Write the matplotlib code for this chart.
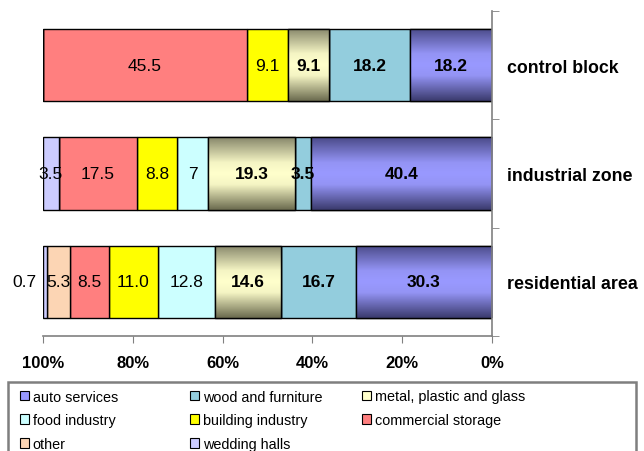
import numpy as np
import matplotlib
matplotlib.use("Agg")
import matplotlib.pyplot as plt
from matplotlib.colors import LinearSegmentedColormap
from matplotlib.patches import Rectangle
from matplotlib import font_manager as fm

plt.rcParams['font.family'] = ['Liberation Sans', 'DejaVu Sans']

try:
    fm.findfont(fm.FontProperties(family='Liberation Sans Narrow'), fallback_to_default=False)
    legend_prop = {"family": ["Liberation Sans Narrow"], "size": 12}
except Exception:
    legend_prop = {"family": ["Liberation Sans"], "size": 10.4}

# ---- data ----
categories = ["residential area", "industrial zone", "control block"]
series = ["auto services", "wood and furniture", "metal, plastic and glass",
          "food industry", "building industry", "commercial storage",
          "other", "wedding halls"]
values = {
    "auto services":            [30.3, 40.4, 18.2],
    "wood and furniture":       [16.7, 3.5, 18.2],
    "metal, plastic and glass": [14.6, 19.3, 9.1],
    "food industry":            [12.8, 7.0, 0.0],
    "building industry":        [11.0, 8.8, 9.1],
    "commercial storage":       [8.5, 17.5, 45.5],
    "other":                    [5.3, 0.0, 0.0],
    "wedding halls":            [0.7, 3.5, 0.0],
}
labels_text = {
    "auto services":            ["30.3", "40.4", "18.2"],
    "wood and furniture":       ["16.7", "3.5", "18.2"],
    "metal, plastic and glass": ["14.6", "19.3", "9.1"],
    "food industry":            ["12.8", "7", ""],
    "building industry":        ["11.0", "8.8", "9.1"],
    "commercial storage":       ["8.5", "17.5", "45.5"],
    "other":                    ["5.3", "", ""],
    "wedding halls":            ["0.7", "3.5", ""],
}
xticks = [0, 20, 40, 60, 80, 100]
xticklabels = ["0%", "20%", "40%", "60%", "80%", "100%"]

# ---- styles ----
colors = {
    "auto services": "#9999ff",
    "wood and furniture": "#93cddd",
    "metal, plastic and glass": "#ffffcc",
    "food industry": "#ccffff",
    "building industry": "#ffff00",
    "commercial storage": "#ff7f7f",
    "other": "#fcd5b4",
    "wedding halls": "#ccccff",
}
gradients = {
    "auto services": LinearSegmentedColormap.from_list(
        "g1", [(0, "#3a3a6c"), (0.35, "#9494f5"), (0.5, "#9999ff"),
               (0.65, "#9494f5"), (1, "#4a4a88")]),
    "metal, plastic and glass": LinearSegmentedColormap.from_list(
        "g2", [(0, "#6a6a4e"), (0.35, "#f5f5c4"), (0.5, "#ffffcc"),
               (0.65, "#f5f5c4"), (1, "#86866a")]),
}
bold_series = {"auto services", "wood and furniture", "metal, plastic and glass"}

W, H = 644, 452
fig = plt.figure(figsize=(W / 100, H / 100), dpi=100)
ax = fig.add_axes([43 / W, 1 - 337 / H, 449 / W, 325 / H])

ypos = np.arange(len(categories))
bar_h = 0.67
left = np.zeros(len(categories))
grad = np.linspace(0, 1, 256).reshape(-1, 1)

for s in series:
    vals = np.array(values[s])
    bars = ax.barh(ypos, vals, height=bar_h, left=left, color=colors[s],
                   edgecolor="black", linewidth=1.0, zorder=2, label=s)
    if s in gradients:
        for b in bars:
            if b.get_width() <= 0:
                continue
            x0, y0 = b.get_x(), b.get_y()
            im = ax.imshow(grad, extent=[x0, x0 + b.get_width(), y0, y0 + b.get_height()],
                           origin="lower", aspect="auto", cmap=gradients[s], zorder=2.1,
                           interpolation="bilinear")
            im.set_clip_path(b)
            ax.add_patch(Rectangle((x0, y0), b.get_width(), b.get_height(),
                                   fill=False, edgecolor="black", linewidth=1.0, zorder=2.2))
    for i, (v, t) in enumerate(zip(vals, labels_text[s])):
        if v <= 0 or not t:
            continue
        weight = "bold" if s in bold_series else "normal"
        if v < 2:
            ax.annotate(t, xy=(left[i] + v, ypos[i]), xytext=(-5, 0),
                        textcoords="offset points", ha="right", va="center",
                        fontsize=12.5, fontweight=weight, color="black", zorder=5,
                        annotation_clip=False)
        else:
            ax.text(left[i] + v / 2, ypos[i], t, ha="center", va="center",
                    fontsize=12.5, fontweight=weight, color="black", zorder=5)
    left = left + vals

ax.set_xlim(100, 0)
ax.set_ylim(-0.5, len(categories) - 0.5)

for side in ["left", "top"]:
    ax.spines[side].set_visible(False)
for side in ["right", "bottom"]:
    ax.spines[side].set_color("#808080")
    ax.spines[side].set_linewidth(1.2)

ax.set_xticks(xticks)
ax.set_xticklabels(xticklabels, fontsize=12, fontweight="bold")
ax.tick_params(axis="x", direction="out", length=5, color="#808080", pad=9)

ax.yaxis.tick_right()
ax.set_yticks(ypos)
ax.set_yticklabels(categories, fontsize=12.8, fontweight="bold")
ax.set_yticks(np.arange(len(categories) + 1) - 0.5, minor=True)
ax.tick_params(axis="y", which="major", length=0, pad=10.5)
ax.tick_params(axis="y", which="minor", direction="out", length=5, color="#808080")
for lab in ax.get_yticklabels():
    lab.set_horizontalalignment("left")

# ---- legend (Excel-style, fixed columns, row-major order) ----
fig.patches.append(Rectangle((8 / W, -0.05), 628 / W, 0.05 + (452 - 383) / H,
                             transform=fig.transFigure, fill=False,
                             edgecolor="#7f7f7f", linewidth=1.8))
col_x = [20 / W, 190 / W, 362 / W]
handles, labs = ax.get_legend_handles_labels()
hmap = dict(zip(labs, handles))
fs_px = legend_prop["size"] * 100 / 72
for c in range(3):
    items = [series[k] for k in range(c, len(series), 3)]
    leg = fig.legend([hmap[k] for k in items], items, loc="upper left",
                     bbox_to_anchor=(col_x[c], 1 - (397 - 0.45 * fs_px) / H), frameon=False,
                     prop=legend_prop,
                     handlelength=0.65 * 10.2 / legend_prop["size"],
                     handleheight=0.65 * 10.2 / legend_prop["size"],
                     handletextpad=0.25, labelspacing=(22.7 / fs_px) - 0.9,
                     borderpad=0.0, borderaxespad=0.0)
    for h in leg.legend_handles:
        h.set_edgecolor("black")
        h.set_linewidth(0.8)

fig.savefig("out.png", dpi=100)
